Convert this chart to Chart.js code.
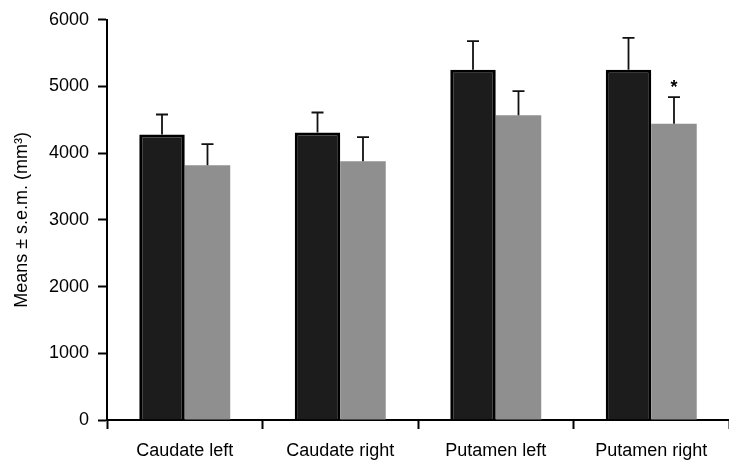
<!DOCTYPE html>
<html>
<head>
<meta charset="utf-8">
<script src="https://cdn.jsdelivr.net/npm/chart.js@4"></script>
<style>
  html, body { margin: 0; padding: 0; background: #fff; overflow: hidden; }
  #wrap { width: 729px; height: 461px; }
</style>
</head>
<body>
<div id="wrap"><canvas id="volChart"></canvas></div>
<script>
const categories = ['Caudate left', 'Caudate right', 'Putamen left', 'Putamen right'];
const seriesA = [4280, 4310, 5250, 5250];
const seriesAErr = [300, 300, 430, 480];
const seriesB = [3820, 3880, 4570, 4440];
const seriesBErr = [315, 360, 360, 400];
const starred = [false, false, false, true]; // marked on series B
const yTicks = [0, 1000, 2000, 3000, 4000, 5000, 6000];

const fontFamily = '"Liberation Sans", Arial, sans-serif';

// draws the upper error whiskers and the asterisk
const errorBars = {
    id: 'errorBars',
    afterDatasetsDraw(chart) {
        const ctx = chart.ctx;
        const y = chart.scales.y;
        const errs = [seriesAErr, seriesBErr];
        ctx.save();
        ctx.strokeStyle = '#111';
        ctx.lineWidth = 1.8;
        chart.data.datasets.forEach((ds, di) => {
            const meta = chart.getDatasetMeta(di);
            meta.data.forEach((bar, i) => {
                const top = y.getPixelForValue(ds.data[i] + errs[di][i]);
                const x = bar.x;
                ctx.beginPath();
                ctx.moveTo(x, bar.y);
                ctx.lineTo(x, top);
                ctx.moveTo(x - 6, top);
                ctx.lineTo(x + 6, top);
                ctx.stroke();
                if (di === 1 && starred[i]) {
                    ctx.fillStyle = '#000';
                    ctx.font = 'bold 18px ' + fontFamily;
                    ctx.textAlign = 'center';
                    ctx.textBaseline = 'middle';
                    ctx.fillText('*', x, top - 9);
                }
            });
        });
        ctx.restore();
    }
};

new Chart(document.getElementById('volChart').getContext('2d'), {
    type: 'bar',
    data: {
        labels: categories,
        datasets: [{
            data: seriesA,
            backgroundColor: '#1c1c1c',
            borderColor: '#000',
            borderWidth: 3,
            borderSkipped: 'bottom',
            categoryPercentage: 0.585,
            barPercentage: 1.0
        }, {
            data: seriesB,
            backgroundColor: '#8f8f8f',
            borderWidth: 0,
            categoryPercentage: 0.585,
            barPercentage: 1.0
        }]
    },
    options: {
        responsive: true,
        maintainAspectRatio: false,
        animation: false,
        layout: { padding: { top: 16, right: 0, left: 0, bottom: 0 } },
        plugins: {
            legend: { display: false },
            tooltip: { enabled: false }
        },
        scales: {
            x: {
                offset: true,
                border: { color: '#000', width: 2 },
                grid: {
                    offset: true,
                    drawOnChartArea: false,
                    drawTicks: true,
                    tickLength: 9,
                    tickWidth: 2,
                    tickColor: '#000'
                },
                ticks: {
                    color: '#000',
                    padding: 11,
                    maxRotation: 0,
                    font: { family: fontFamily, size: 18 }
                },
                afterFit(scale) { scale.height = 41; }
            },
            y: {
                min: 0,
                max: 6000,
                afterBuildTicks(scale) { scale.ticks = yTicks.map(v => ({ value: v })); },
                border: { color: '#000', width: 2 },
                grid: {
                    drawOnChartArea: false,
                    tickLength: 9,
                    tickWidth: 2,
                    tickColor: '#000'
                },
                ticks: {
                    color: '#000',
                    padding: 9,
                    font: { family: fontFamily, size: 18 },
                    callback: v => String(v)
                },
                title: {
                    display: true,
                    text: 'Means \u00b1 s.e.m. (mm\u00b3)',
                    color: '#000',
                    padding: { top: 11, bottom: 0 },
                    font: { family: fontFamily, size: 18 }
                },
                afterFit(scale) { scale.width = 107; }
            }
        }
    },
    plugins: [errorBars]
});
</script>
</body>
</html>
